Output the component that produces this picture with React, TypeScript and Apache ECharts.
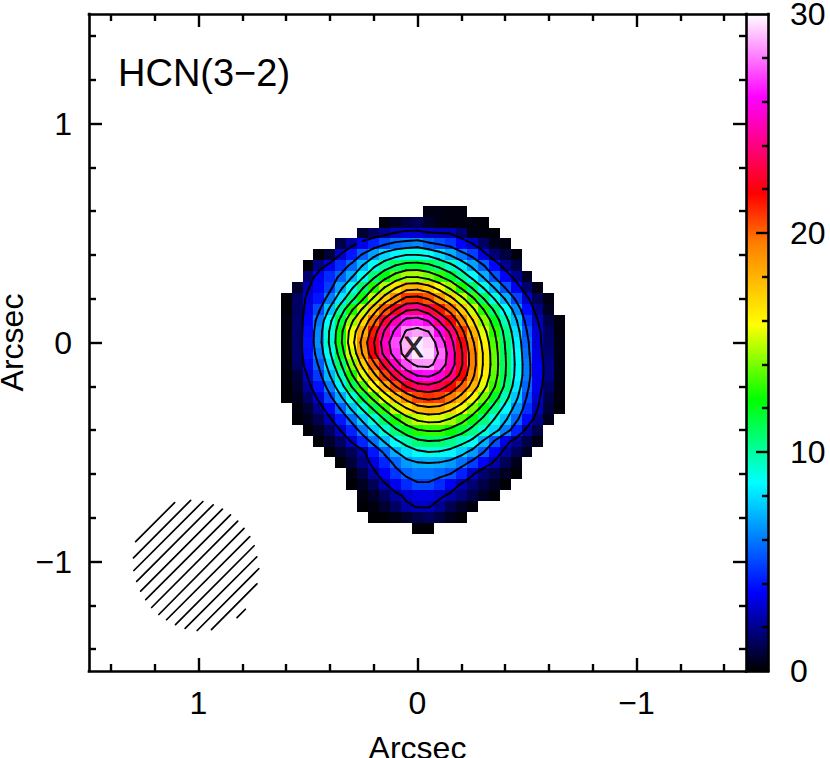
import React, { useEffect, useRef } from "react";
import * as echarts from "echarts";

const FONT = "Liberation Sans";
const CELL = 0.05;
const FIRST = 0.6;

// Intensity map, one row per 0.05 arcsec from y=+0.60 down, each starting at column rowStarts[j]
const rowStarts = [13, 9, 7, 5, 3, 2, 2, 1, 0, 0, 0, 0, 0, 0, 0, 0, 0, 0, 1, 1, 2, 3, 4, 5, 6, 6, 7, 7, 8, 12];
const rows: number[][] = [
  [0.3, 0.3, 0.2, 0.2],
  [0.2, 0.5, 0.9, 1.2, 0.6, 0.3, 0.2, 0.2, 0.2, 0.1],
  [0.7, 1.3, 2, 2.7, 3, 3, 2.7, 2.6, 2.5, 1.6, 0.3, 0.2, 0.1],
  [1, 2.2, 3.3, 4.2, 5, 5.7, 6, 6.3, 5.6, 5.1, 4.6, 3.6, 2.7, 1.4, 0.4, 0.2],
  [0.1, 0.8, 2.8, 4, 5.4, 6.7, 7.8, 8.5, 9, 9, 8.7, 7.9, 7, 5.9, 4.8, 3.2, 1.6, 0.9, 0.2],
  [0.1, 1.8, 3.2, 4.4, 5.6, 7.2, 8.7, 10, 11, 11.6, 11.7, 11.3, 10.5, 9.5, 8.2, 6.8, 5.4, 3.7, 2, 1],
  [1.6, 3.4, 4.4, 5.5, 7, 8.8, 10.6, 12.2, 13.6, 14.6, 14.6, 14, 13, 11.8, 10.2, 8.6, 7, 5.2, 3.6, 2, 0.5],
  [0.6, 2.5, 3.6, 4.8, 6.8, 8.8, 10.8, 12.8, 14.8, 16.5, 17.8, 18, 17.3, 16, 14.4, 12.6, 10.8, 9, 7.1, 5.2, 3.4, 1.6, 0.3],
  [0.1, 1.4, 3, 4, 6, 8.2, 10.4, 12.6, 15, 17.4, 19.2, 20.9, 21, 20.3, 18.8, 17.2, 15.2, 13.2, 11, 9, 7, 4.9, 2.9, 1.2, 0.3],
  [0.1, 1.4, 3.3, 5, 7.4, 10, 12.6, 15, 17.6, 20.2, 22.3, 24, 24.2, 23.2, 21.5, 19.8, 17.5, 15.2, 12.9, 10.7, 8.6, 6.3, 3.8, 1.9, 0.5],
  [0.2, 1.5, 3.6, 5.9, 8.6, 11.4, 14.4, 17, 19.8, 22.8, 25, 26.6, 26.8, 26, 24, 22, 19.4, 16.8, 14.3, 12, 9.7, 7.3, 4.6, 2.6, 1, 0.2],
  [0.2, 1.5, 3.8, 6.3, 9.2, 12.3, 15.6, 18.4, 21.4, 24.4, 26.5, 28.2, 28.6, 28, 26, 23.9, 21, 18, 15.4, 12.9, 10.4, 8, 5.2, 3, 1.3, 0.2],
  [0.2, 1.5, 3.9, 6.4, 9.3, 12.5, 15.9, 19.2, 22.2, 25.2, 27.3, 28.9, 29.7, 29.3, 27.2, 24.9, 22.1, 18.9, 16.1, 13.4, 10.8, 8.4, 5.6, 3.1, 1.4, 0.3],
  [0.2, 1.5, 3.8, 6, 8.8, 11.8, 15.2, 18.7, 21.8, 24.8, 27, 28.8, 29.7, 29.5, 27.8, 25.3, 22.6, 19.4, 16.5, 13.7, 11, 8.6, 5.8, 3.2, 1.6, 0.3],
  [0.2, 1.4, 3.4, 5.4, 8, 10.8, 14, 17.2, 20, 22.8, 25.3, 27.3, 28.4, 28.5, 27.3, 25.2, 22.6, 19.5, 16.5, 13.8, 11.1, 8.7, 6, 3.4, 1.8, 0.3],
  [0.1, 0.8, 2.8, 4.7, 7.1, 9.6, 12.6, 15.4, 18, 20.6, 23, 25, 26.2, 26.4, 25.6, 24, 21.8, 19, 16.2, 13.6, 11, 8.6, 6, 3.4, 1.8, 0.3],
  [0.1, 0.6, 2.1, 3.9, 6, 8.3, 11, 13.4, 15.8, 18.2, 20.4, 22.4, 23.5, 23.8, 23.2, 21.8, 20, 17.9, 15.4, 13, 10.6, 8.2, 5.6, 3.3, 1.4, 0.2],
  [0.1, 0.4, 1.4, 3, 4.9, 6.9, 9.1, 11.3, 13.4, 15.6, 17.6, 19.3, 20.6, 21, 20.7, 19.6, 18, 16, 13.9, 11.8, 9.7, 7.5, 5.1, 3, 1, 0.2],
  [0.2, 0.7, 1.9, 3.6, 5.4, 7.4, 9.3, 11.2, 13.1, 15, 16.6, 17.8, 18.2, 18, 17.1, 15.7, 14, 12.2, 10.3, 8.5, 6.5, 4.5, 2.6, 0.8, 0.1],
  [0.1, 0.4, 1.1, 2.4, 4, 5.7, 7.5, 9.2, 11, 12.6, 14, 15, 15.4, 15.3, 14.6, 13.5, 12.1, 10.6, 9, 7.4, 5.6, 3.7, 1.8, 0.4],
  [0.1, 0.5, 1.3, 2.7, 4.2, 5.9, 7.5, 9.2, 10.6, 11.8, 12.7, 13, 13, 12.4, 11.6, 10.4, 9.2, 7.8, 6.1, 4.2, 2.2, 1],
  [0.1, 0.6, 1.4, 2.8, 4.3, 5.8, 7.3, 8.7, 9.8, 10.6, 10.9, 10.8, 10.3, 9.6, 8.7, 7, 5.2, 3.2, 2, 1, 0.3],
  [0.1, 0.7, 1.2, 2.2, 4, 5.5, 7, 8, 8.7, 9, 8.9, 8.5, 7.7, 6.6, 5.3, 3.6, 2.2, 1.2, 0.5],
  [0.1, 0.8, 1.8, 3.1, 4.3, 5.6, 6.6, 7, 7.1, 7, 6.6, 5.8, 4.8, 3.6, 2.4, 1.2, 0.4],
  [0.2, 1, 2.2, 3.5, 4.6, 5.5, 5.8, 5.8, 5.6, 5.2, 4.2, 2.8, 1.6, 1, 0.5, 0.1],
  [0.05, 0.5, 1.2, 2.4, 3.4, 4.4, 5, 5, 4.4, 3.4, 2.4, 1.6, 1, 0.5, 0.1],
  [0.2, 0.6, 1.3, 2.2, 2.9, 3.2, 3.2, 2.9, 2.3, 1.7, 1, 0.5, 0.1],
  [0.05, 0.2, 0.7, 1.4, 2.3, 2.7, 2.7, 2, 1.1, 0.6, 0.2],
  [0.05, 0.1, 0.3, 0.6, 1, 1.3, 0.9, 0.4, 0.1],
  [0.1, 0.1],
];

const contourLevels = [2.6, 5.2, 7.1, 9, 10.9, 12.8, 14.7, 16.6, 18.5, 20.4, 22.3, 24.2, 26.1, 28];

// colour table, value -> rgb
const colorStops: [number, number[]][] = [
  [0, [0, 0, 0]],
  [3.6, [0, 0, 255]],
  [8.6, [0, 255, 255]],
  [12.4, [0, 255, 0]],
  [15.8, [255, 255, 0]],
  [19.5, [255, 128, 0]],
  [21.8, [255, 0, 0]],
  [26.2, [255, 0, 255]],
  [30, [255, 255, 255]],
];

const majorTicks = [-1, 0, 1];
const minorTicks = [-1.4, -1.2, -0.8, -0.6, -0.4, -0.2, 0.2, 0.4, 0.6, 0.8, 1.2, 1.4];
const barMajor = [10, 20];
const barMinor = [2, 4, 6, 8, 12, 14, 16, 18, 22, 24, 26, 28];
const barLabels = [0, 10, 20, 30];

// beam hatching: x1, y1, x2, y2 in arcsec
const beamHatch = [
  [1.287, -0.909, 1.109, -0.731],
  [1.297, -0.983, 1.036, -0.721],
  [1.295, -1.041, 0.98, -0.726],
  [1.282, -1.091, 0.933, -0.741],
  [1.264, -1.135, 0.891, -0.761],
  [1.241, -1.174, 0.854, -0.787],
  [1.214, -1.21, 0.821, -0.816],
  [1.181, -1.242, 0.792, -0.849],
  [1.146, -1.266, 0.766, -0.886],
  [1.105, -1.288, 0.746, -0.928],
  [1.061, -1.305, 0.734, -0.979],
  [1.006, -1.315, 0.725, -1.033],
  [0.941, -1.311, 0.733, -1.102],
  [0.824, -1.256, 0.786, -1.218],
];
const markerPoint = [0.018, -0.017];

function colorFor(v: number) {
  for (let k = 1; k < colorStops.length; k++) {
    const [v1, c1] = colorStops[k];
    const [v0, c0] = colorStops[k - 1];
    if (v <= v1) {
      const t = (v - v0) / (v1 - v0);
      const c = c0.map((a, n) => Math.round(a + (c1[n] - a) * t));
      return `rgb(${c[0]},${c[1]},${c[2]})`;
    }
  }
  return "#fff";
}

const colX = (i: number) => FIRST - CELL * i;
const rowY = (j: number) => FIRST - CELL * j;

const cells: number[][] = [];
rows.forEach((r, j) => r.forEach((v, n) => cells.push([colX(rowStarts[j] + n), rowY(j), v])));

function valueAt(i: number, j: number): number | null {
  const r = rows[j];
  if (!r) return null;
  const v = r[i - rowStarts[j]];
  return v === undefined ? null : v;
}

function contourSegments(): number[][] {
  const out: number[][] = [];
  for (const L of contourLevels) {
    for (let j = 0; j < rows.length - 1; j++) {
      for (let i = 0; i < 25; i++) {
        const a = valueAt(i, j), b = valueAt(i + 1, j), c = valueAt(i + 1, j + 1), d = valueAt(i, j + 1);
        if (a === null || b === null || c === null || d === null) continue;
        const pts: number[][] = [];
        const cross = (p: number, q: number, x0: number, y0: number, x1: number, y1: number) => {
          if (p >= L !== q >= L) {
            const t = (L - p) / (q - p);
            pts.push([colX(x0 + (x1 - x0) * t), rowY(y0 + (y1 - y0) * t)]);
          }
        };
        cross(a, b, i, j, i + 1, j);
        cross(b, c, i + 1, j, i + 1, j + 1);
        cross(c, d, i + 1, j + 1, i, j + 1);
        cross(d, a, i, j + 1, i, j);
        if (pts.length >= 2) out.push([pts[0][0], pts[0][1], pts[1][0], pts[1][1]]);
        if (pts.length === 4) out.push([pts[2][0], pts[2][1], pts[3][0], pts[3][1]]);
      }
    }
  }
  return out;
}

const LINE = { show: true, onZero: false, lineStyle: { color: "#000", width: 2.6, cap: "square" } };
const NOLINE = { show: false, onZero: false };
const label = (v: number) => (v < 0 ? "\u2212" + Math.abs(v) : String(v));

function mainAxis(position: string, values: number[], length: number, inverse: boolean, withLine: boolean, extra: any = {}) {
  return {
    type: "value",
    gridIndex: 0,
    position,
    inverse,
    min: -1.5,
    max: 1.5,
    z: 6,
    splitLine: { show: false },
    axisLine: withLine ? LINE : NOLINE,
    axisTick: { show: true, inside: true, length, customValues: values, lineStyle: { color: "#000", width: 2.4 } },
    axisLabel: { show: false },
    ...extra,
  };
}

const labelled = (margin: number) => ({
  axisLabel: {
    show: true,
    customValues: majorTicks,
    formatter: label,
    color: "#000",
    fontFamily: FONT,
    fontSize: 32,
    margin,
  },
});

function App() {
  const ref = useRef<HTMLDivElement>(null);
  useEffect(() => {
    const chart = echarts.init(ref.current!, undefined, { renderer: "svg" });
    const nameStyle = { color: "#000", fontFamily: FONT, fontSize: 32 };
    chart.setOption({
      animation: false,
      backgroundColor: "#fff",
      title: {
        text: "HCN(3\u22122)",
        left: 113,
        top: 49,
        textStyle: { color: "#000", fontFamily: FONT, fontSize: 38, fontWeight: "normal" },
      },
      grid: [
        { left: 89, top: 14, width: 657, height: 657, outerBoundsMode: "none", containLabel: false },
        { left: 746, top: 14, width: 22, height: 657, outerBoundsMode: "none", containLabel: false },
      ],
      xAxis: [
        mainAxis("bottom", majorTicks, 13, true, true, {
          ...labelled(16),
          name: "Arcsec",
          nameLocation: "middle",
          nameGap: 61,
          nameMoveOverlap: false,
          nameTextStyle: nameStyle,
        }),
        mainAxis("top", majorTicks, 13, true, true),
        mainAxis("bottom", minorTicks, 7, true, false),
        mainAxis("top", minorTicks, 7, true, false),
        {
          type: "value", gridIndex: 1, position: "bottom", min: 0, max: 1, z: 6,
          axisLine: LINE, axisTick: { show: false }, axisLabel: { show: false }, splitLine: { show: false },
        },
        {
          type: "value", gridIndex: 1, position: "top", min: 0, max: 1, z: 6,
          axisLine: LINE, axisTick: { show: false }, axisLabel: { show: false }, splitLine: { show: false },
        },
      ],
      yAxis: [
        mainAxis("left", majorTicks, 13, false, true, {
          ...labelled(17),
          name: "Arcsec",
          nameLocation: "middle",
          nameRotate: 90,
          nameGap: 61,
          nameMoveOverlap: false,
          nameTextStyle: nameStyle,
        }),
        mainAxis("right", majorTicks, 13, false, true),
        mainAxis("left", minorTicks, 7, false, false),
        mainAxis("right", minorTicks, 7, false, false),
        {
          type: "value", gridIndex: 1, position: "right", min: 0, max: 30, z: 6,
          splitLine: { show: false },
          axisLine: LINE,
          axisTick: { show: true, inside: true, length: 12, customValues: barMajor, lineStyle: { color: "#000", width: 2.4 } },
          axisLabel: {
            show: true, customValues: barLabels, color: "#000", fontFamily: FONT, fontSize: 32, margin: 22,
          },
        },
        {
          type: "value", gridIndex: 1, position: "right", min: 0, max: 30, z: 6,
          splitLine: { show: false }, axisLine: NOLINE,
          axisTick: { show: true, inside: true, length: 6, customValues: barMinor, lineStyle: { color: "#000", width: 2.4 } },
          axisLabel: { show: false },
        },
      ],
      series: [
        {
          type: "custom",
          name: "map",
          xAxisIndex: 0,
          yAxisIndex: 0,
          data: cells,
          encode: { x: 0, y: 1 },
          silent: true,
          renderItem: (_p: any, api: any) => {
            const x = api.value(0), y = api.value(1);
            const a = api.coord([x + CELL / 2, y + CELL / 2]).map(Math.round);
            const b = api.coord([x - CELL / 2, y - CELL / 2]).map(Math.round);
            const fill = colorFor(api.value(2));
            return {
              type: "rect",
              shape: { x: a[0], y: a[1], width: b[0] - a[0], height: b[1] - a[1] },
              style: { fill, stroke: null },
            };
          },
        },
        {
          type: "custom",
          name: "contours",
          xAxisIndex: 0,
          yAxisIndex: 0,
          data: contourSegments(),
          encode: { x: [0, 2], y: [1, 3] },
          silent: true,
          z: 3,
          renderItem: (_p: any, api: any) => {
            const a = api.coord([api.value(0), api.value(1)]);
            const b = api.coord([api.value(2), api.value(3)]);
            return {
              type: "line",
              shape: { x1: a[0], y1: a[1], x2: b[0], y2: b[1] },
              style: { stroke: "#000", lineWidth: 1.9, lineCap: "round" },
            };
          },
        },
        {
          type: "custom",
          name: "beam",
          xAxisIndex: 0,
          yAxisIndex: 0,
          data: beamHatch,
          encode: { x: [0, 2], y: [1, 3] },
          silent: true,
          z: 3,
          renderItem: (_p: any, api: any) => {
            const a = api.coord([api.value(0), api.value(1)]);
            const b = api.coord([api.value(2), api.value(3)]);
            return {
              type: "line",
              shape: { x1: a[0], y1: a[1], x2: b[0], y2: b[1] },
              style: { stroke: "#000", lineWidth: 1.7, lineCap: "round" },
            };
          },
        },
        {
          type: "scatter",
          name: "peak",
          xAxisIndex: 0,
          yAxisIndex: 0,
          data: [markerPoint],
          symbolSize: 0,
          silent: true,
          z: 4,
          label: {
            show: true,
            position: "inside",
            formatter: "X",
            color: "#000",
            fontFamily: FONT,
            fontSize: 30,
            textBorderColor: "#000",
            textBorderWidth: 1,
          },
        },
        {
          type: "custom",
          name: "colorbar",
          xAxisIndex: 4,
          yAxisIndex: 4,
          data: [[0, 0, 1, 30]],
          encode: { x: [0, 2], y: [1, 3] },
          silent: true,
          renderItem: (_p: any, api: any) => {
            const a = api.coord([api.value(0), api.value(3)]);
            const b = api.coord([api.value(2), api.value(1)]);
            const grad = new echarts.graphic.LinearGradient(
              0, 1, 0, 0,
              colorStops.map(([v, c]) => ({ offset: v / 30, color: `rgb(${c[0]},${c[1]},${c[2]})` })),
            );
            return {
              type: "rect",
              shape: { x: a[0], y: a[1], width: b[0] - a[0], height: b[1] - a[1] },
              style: { fill: grad },
            };
          },
        },
      ],
    });
    return () => chart.dispose();
  }, []);
  return <div ref={ref} style={{ position: "absolute", left: 0, top: 0, width: 830, height: 758 }} />;
}

export default App;
